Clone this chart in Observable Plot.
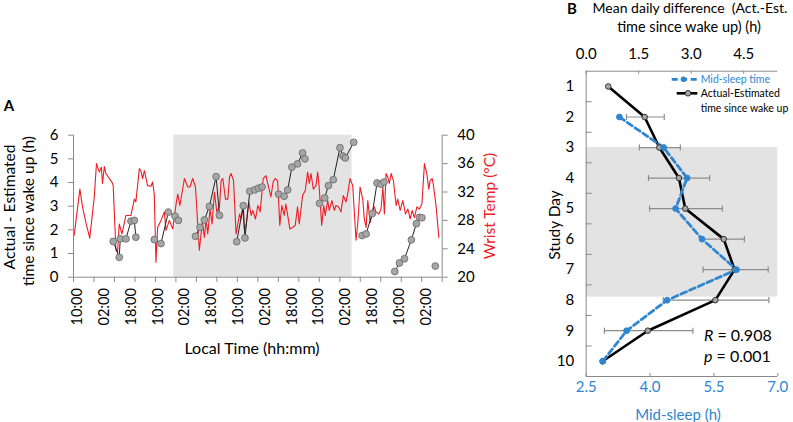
<!DOCTYPE html>
<html><head><meta charset="utf-8">
<script src="https://cdn.jsdelivr.net/npm/d3@7"></script>
<script src="https://cdn.jsdelivr.net/npm/@observablehq/plot@0.6"></script>
<style>
body{margin:0;background:#fff;font-family:Lato,"Liberation Sans",sans-serif;}
#wrap{position:relative;width:793px;height:422px;overflow:hidden;background:#fff;}
.abs{position:absolute;white-space:nowrap;line-height:1;}
.rot{transform:translate(-50%,-50%) rotate(-90deg);}
.ctr{transform:translate(-50%,-50%);}
.lft{transform:translate(0,-50%);}
</style></head><body><div id="wrap"></div>
<script>
// ---------- Panel A data ----------
// wrist temperature trace: time (h from first 10:00 label), temperature (°C)
const tempTime = [
-2.0,1.4,3.0,5.0,7.3,10.0,11.3,13.0,14.2,14.9,
16.0,16.9,20.5,21.3,22.9,23.9,24.9,26.5,28.9,31.9,
33.9,34.8,36.9,37.8,38.8,39.9,41.8,43.8,44.8,45.8,
46.8,47.8,49.8,51.8,52.8,54.8,56.8,58.8,59.8,61.1,
63.8,65.8,67.1,68.7,70.4,71.7,72.7,73.7,74.7,75.7,
76.7,77.7,79.1,80.3,81.7,83.1,84.7,85.7,86.7,88.3,
89.7,90.7,91.6,93.1,94.6,96.7,97.6,98.6,99.6,100.6,
102.2,103.6,104.6,106.2,107.6,109.0,
110.8,112.4,114.0,115.4,
116.7,117.9,119.4,120.7,121.9,123.3,124.3,125.4,126.7,128.3,
129.9,131.3,132.3,134.3,135.9,137.3,138.3,139.3,140.7,142.3,
143.3,144.2,145.7,146.9,147.8,149.3,150.2,151.8,153.2,154.2,
155.8,157.2,158.6,160.2,161.2,162.6,164.2,166.2,167.2,168.6,
170.2,171.1,172.2,173.2,174.6,176.2,177.1,178.1,179.8,181.1,
182.2,183.1,184.1,185.1,186.1,187.1,188.5,190.1,191.1,192.5,
194.1,195.7,197.1,198.5,199.7,201.0,202.5,204.0,205.5,207.0,
208.4,209.6,210.4,211.6,212.4,214.0,215.6];
const tempC = [
25.9,32.4,29.9,27.7,25.5,31.3,36.0,34.8,35.5,33.2,
35.6,34.6,33.4,32.9,23.8,23.5,27.5,26.1,28.7,28.7,
31.0,30.6,35.3,35.0,33.9,35.0,32.9,32.8,33.4,31.7,
22.1,27.0,28.0,29.2,26.6,28.0,26.8,30.3,31.7,30.1,
33.9,32.7,32.7,33.9,32.7,27.5,23.8,26.1,27.5,25.6,
28.2,26.1,29.6,27.5,32.0,29.2,29.9,33.6,33.9,31.0,
31.0,34.1,34.6,33.6,26.1,28.9,28.2,29.9,26.6,27.3,
30.6,28.7,29.4,28.2,30.1,29.2,
33.9,34.3,32.7,31.3,
33.4,33.9,33.6,27.3,30.1,28.7,30.3,28.7,26.8,27.0,
27.3,29.9,27.5,31.5,32.2,34.8,33.2,34.6,32.4,32.9,
34.8,32.7,27.3,30.1,28.7,30.8,29.4,30.8,29.4,30.1,
29.9,29.2,31.5,30.6,31.7,33.9,32.9,25.2,27.5,32.7,
31.0,28.2,27.0,30.8,27.7,29.4,29.9,29.2,28.9,29.6,
32.7,28.9,34.6,34.1,33.2,34.6,33.6,30.1,31.0,29.4,
30.8,28.9,29.6,28.2,29.4,28.4,29.9,29.6,30.3,36.0,
34.6,32.4,33.6,33.9,32.9,29.9,25.6];
// actual - estimated time since wake up (h), grouped by day
const dotTime = [21.3,24.9,25.5,28.9,31.9,33.9,34.8, 45.8,49.8,54.2,58.2,60.2, 70.4,73.1,75.7,78.7,82.7,84.7,
  95.0,98.9,99.9,102.8,105.7,108.0,110.1, 120.0,123.3,125.4,127.9,131.3,134.3,135.7,
  144.4,147.5,149.7,152.6,156.6,158.4,159.8,164.8, 169.8,172.2,175.9,178.7,181.0,182.9,
  189.3,192.1,195.1,199.2,202.2,204.0,205.5, 213.5];
const dotDiff = [1.51,0.84,1.62,1.62,2.37,2.40,1.69, 1.59,1.42,2.75,2.58,2.40, 1.73,2.11,2.42,2.99,4.25,2.61,
  1.50,3.02,1.66,3.63,3.69,3.76,3.81, 3.51,3.42,3.69,4.65,4.79,5.25,5.00,
  3.12,3.35,3.87,4.12,5.47,5.12,5.04,5.70, 1.76,1.83,2.69,3.98,3.93,4.02,
  0.24,0.60,0.78,1.58,2.26,2.53,2.51, 0.47];
const dotGroup = [1,1,1,1,1,1,1, 2,2,2,2,2, 3,3,3,3,3,3, 4,4,4,4,4,4,4, 5,5,5,5,5,5,5,
  6,6,6,6,6,6,6,6, 7,7,7,7,7,7, 8,8,8,8,8,8,8, 9];
const shadeA = [57.4, 163.8];            // shaded interval (h)
const leftTicksA = [0,1,2,3,4,5,6];
const tempTicks = [20,24,28,32,36,40];
const xLabelHours = [0,16,32,48,64,80,96,112,128,144,160,176,192,208];
const xLabelText = ["10:00","02:00","18:00","10:00","02:00","18:00","10:00","02:00","18:00","10:00","02:00","18:00","10:00","02:00"];

// ---------- Panel B data ----------
const days = [1,2,3,4,5,6,7,8,9,10];
const actDiff = [0.63,1.67,2.09,2.65,2.83,3.93,4.24,3.69,1.76,0.47];
const errLo = [null,1.15,1.52,1.78,1.81,3.35,3.34,2.20,0.52,null];
const errHi = [null,2.23,2.69,3.53,3.89,4.52,5.20,5.22,3.05,null];
const midSleep = [null,3.28,4.32,4.87,4.60,5.22,6.03,4.40,3.45,2.89];
const shadeB = [3.0, 7.9];
const topTicks = [0,1.5,3.0,4.5];
const bottomTicks = [2.5,4.0,5.5,7.0];
const halfDays = [1.5,2.5,3.5,4.5,5.5,6.5,7.5,8.5,9.5];

const FONT = "Lato, 'Liberation Sans', sans-serif";
const GRAY = "#8a8a8a";
const RED = "#ee1c25";
const BLUE = "#2e86d0";
const wrap = document.getElementById("wrap");

// ---------- Panel A ----------
const xDomA = [-2.4, 217.6];
const tempToY = t => (t - 20) * 6 / 20;
const tempRows = tempTime.map((t, i) => ({t, c: tempC[i]}));
const dotRows = dotTime.map((t, i) => ({t, v: dotDiff[i], g: dotGroup[i]}));
const xTickMarks = d3.range(19).map(k => xDomA[0] + k * (xDomA[1] - xDomA[0]) / 18);

const plotA = Plot.plot({
  width: 520, height: 422,
  marginLeft: 73, marginRight: 78.3, marginTop: 134.7, marginBottom: 145.3,
  x: {domain: xDomA, axis: null},
  y: {domain: [0, 6], axis: null},
  style: {fontFamily: FONT, background: "transparent", color: "#000", overflow: "visible"},
  marks: [
    Plot.rect([{a: shadeA[0], b: shadeA[1]}], {x1: "a", x2: "b", y1: () => 0, y2: () => 6, fill: "#e3e3e3"}),
    Plot.line(tempRows, {x: "t", y: d => tempToY(d.c), stroke: RED, strokeWidth: 1.1}),
    Plot.line(dotRows, {x: "t", y: "v", z: "g", stroke: "#222", strokeWidth: 1}),
    Plot.dot(dotRows, {x: "t", y: "v", r: 3.4, fill: "#a6a6a6", stroke: "#6e6e6e", strokeWidth: 0.9}),
    Plot.ruleX([xDomA[0], xDomA[1]], {stroke: GRAY}),
    Plot.ruleY([0], {stroke: GRAY}),
    Plot.ruleX(xTickMarks, {x: d => d, y1: () => 0, y2: () => -0.22, stroke: GRAY}),
    Plot.axisY(leftTicksA, {anchor: "left", tickSize: 5, tickPadding: 10, stroke: GRAY, fill: "#000", fontSize: 15, label: null}),
    Plot.axisY(tempTicks.map(tempToY), {anchor: "right", tickSize: 5, tickPadding: 10, stroke: GRAY, fill: "#000", fontSize: 15, label: null,
      tickFormat: v => String(Math.round(v * 20 / 6 + 20))}),
    Plot.axisX(xLabelHours, {anchor: "bottom", tickSize: 0, tickPadding: 11, tickRotate: -90, fill: "#000", fontSize: 14.5, label: null,
      tickFormat: d => xLabelText[xLabelHours.indexOf(d)]})
  ]
});
plotA.style.position = "absolute"; plotA.style.left = "0px"; plotA.style.top = "0px";
wrap.appendChild(plotA);

// ---------- Panel B ----------
const B_TOP_MAX = 5.475;
const midToX = m => (m - 2.5) * B_TOP_MAX / 4.5;
const xToMid = v => v * 4.5 / B_TOP_MAX + 2.5;
const bRows = days.map((d, i) => ({day: d, act: actDiff[i], lo: errLo[i], hi: errHi[i], mid: midSleep[i]}));
const errRows = bRows.filter(d => d.lo != null);
const capRows = errRows.flatMap(d => [{day: d.day, x: d.lo}, {day: d.day, x: d.hi}]);
const blueRows = bRows.filter(d => d.mid != null);

const plotB = Plot.plot({
  width: 273, height: 422,
  marginLeft: 65.7, marginRight: 15.7, marginTop: 70.7, marginBottom: 46,
  x: {domain: [0, B_TOP_MAX], axis: null},
  y: {domain: [0.5, 10.5], reverse: true, axis: null},
  style: {fontFamily: FONT, background: "transparent", color: "#000", overflow: "visible"},
  marks: [
    Plot.rect([{a: shadeB[0], b: shadeB[1]}], {x1: () => 0, x2: () => B_TOP_MAX, y1: "a", y2: "b", fill: "#e3e3e3"}),
    Plot.link(errRows, {x1: "lo", x2: "hi", y1: "day", y2: "day", stroke: "#8c8c8c", strokeWidth: 1.2}),
    Plot.link(capRows, {x1: "x", x2: "x", y1: d => d.day - 0.1, y2: d => d.day + 0.1, stroke: "#8c8c8c", strokeWidth: 1.2}),
    Plot.line(bRows, {x: "act", y: "day", stroke: "#000", strokeWidth: 2.6}),
    Plot.line(blueRows, {x: d => midToX(d.mid), y: "day", stroke: BLUE, strokeWidth: 2.8, strokeDasharray: "6 3.5"}),
    Plot.dot(bRows, {x: "act", y: "day", r: 2.8, fill: "#a6a6a6", stroke: "#333", strokeWidth: 1}),
    Plot.dot(blueRows, {x: d => midToX(d.mid), y: "day", r: 3, fill: BLUE, stroke: BLUE, strokeWidth: 0.8}),
    Plot.ruleX([0], {stroke: GRAY}),
    Plot.ruleY([0.5, 10.5], {stroke: GRAY}),
    Plot.ruleX(topTicks, {x: d => d, y1: () => 0.5, y2: () => 0.6, stroke: GRAY}),
    Plot.ruleX(bottomTicks.map(midToX), {x: d => d, y1: () => 10.5, y2: () => 10.4, stroke: GRAY}),
    Plot.ruleY(halfDays, {y: d => d, x1: () => 0, x2: () => 0.17, stroke: GRAY}),
    Plot.axisY(days, {anchor: "left", tickSize: 0, tickPadding: 12, fill: "#000", fontSize: 15, label: null}),
    Plot.axisX(topTicks, {anchor: "top", tickSize: 0, tickPadding: 12, fill: "#000", fontSize: 15, label: null,
      tickFormat: d3.format(".1f")}),
    Plot.axisX(bottomTicks.map(midToX), {anchor: "bottom", tickSize: 0, tickPadding: 5, fill: BLUE, fontSize: 15, label: null,
      tickFormat: v => d3.format(".1f")(xToMid(v))})
  ]
});
plotB.style.position = "absolute"; plotB.style.left = "520px"; plotB.style.top = "0px";
wrap.appendChild(plotB);

// ---------- text overlays ----------
function addText(txt, x, y, cls, css) {
  const el = document.createElement("div");
  el.className = "abs " + cls;
  el.style.left = x + "px"; el.style.top = y + "px";
  Object.assign(el.style, css || {});
  el.innerHTML = txt;
  wrap.appendChild(el);
  return el;
}
addText("A", 9, 105, "ctr", {fontSize: "15px", fontWeight: "bold"});
addText("B", 572, 8, "ctr", {fontSize: "15px", fontWeight: "bold"});
addText("Actual - Estimated", 10, 207, "rot", {fontSize: "15.5px"});
addText("time since wake up (h)", 29, 211, "rot", {fontSize: "15.5px"});
addText("Wrist Temp (°C)", 490, 206, "rot", {fontSize: "15.5px", color: RED});
addText("Local Time (hh:mm)", 252, 348, "ctr", {fontSize: "16px"});
addText("Mean daily difference&nbsp; (Act.-Est.", 690, 8, "ctr", {fontSize: "14px"});
addText("time since wake up) (h)", 689, 27, "ctr", {fontSize: "14.5px"});
addText("Study Day", 555, 225, "rot", {fontSize: "15.5px"});
addText("Mid-sleep (h)", 678, 414, "ctr", {fontSize: "15px", color: BLUE});
addText("<i>R</i> = 0.908", 704, 335, "lft", {fontSize: "16px"});
addText("<i>p</i> = 0.001", 704, 356, "lft", {fontSize: "16px"});

// legend
const leg = document.createElementNS("http://www.w3.org/2000/svg", "svg");
leg.setAttribute("width", 40); leg.setAttribute("height", 30);
leg.style.position = "absolute"; leg.style.left = "668px"; leg.style.top = "72px";
leg.innerHTML = `<line x1="3.7" x2="28.7" y1="7.3" y2="7.3" stroke="${BLUE}" stroke-width="2.8" stroke-dasharray="6 3.5"/>
<circle cx="15.5" cy="7.3" r="2.8" fill="${BLUE}"/>
<line x1="8.7" x2="29.3" y1="21.3" y2="21.3" stroke="#000" stroke-width="2.6"/>
<circle cx="20" cy="21.3" r="2.8" fill="#a6a6a6" stroke="#333" stroke-width="1"/>`;
wrap.appendChild(leg);
addText("Mid-sleep time", 700.7, 79.3, "lft", {fontSize: "10.5px", color: BLUE});
addText("Actual-Estimated", 700.7, 93.3, "lft", {fontSize: "10.5px"});
addText("time since wake up", 700.7, 107.7, "lft", {fontSize: "10.5px"});
</script></body></html>
